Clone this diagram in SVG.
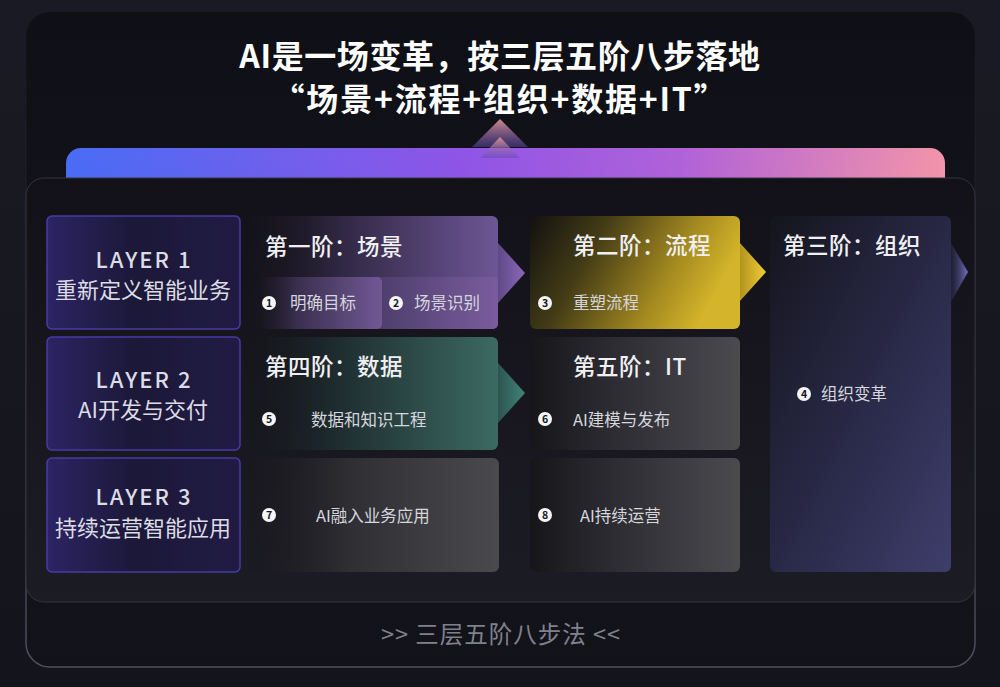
<svg xmlns="http://www.w3.org/2000/svg" width="1000" height="687" viewBox="0 0 1000 687">
<defs>
<style>
text{font-family:"Noto Sans CJK SC","Noto Sans",sans-serif}
.title{font-size:32px;font-weight:700;fill:#ffffff;text-anchor:middle;letter-spacing:0.6px}
.title2{letter-spacing:1.8px}
.lay{font-size:22px;font-weight:500;fill:#dcdce4;text-anchor:middle;letter-spacing:2px}
.laysub{font-size:22px;fill:#dcdce4;text-anchor:middle}
.stage{font-size:22.5px;font-weight:500;fill:#f0f0f4;letter-spacing:0.5px}
.step{font-size:16.5px;fill:#d6d6de}
.num{font-size:10.5px;font-weight:700;fill:#15151c;text-anchor:middle}
.nc{fill:#f6f6f8}
.layerbox{fill:url(#gLayer);stroke:#4a3aa6;stroke-width:1.5}
</style>
<linearGradient id="gBg" x1="0" y1="0" x2="0" y2="1">
<stop offset="0" stop-color="#1a1a24"/><stop offset="1" stop-color="#14141c"/>
</linearGradient>
<linearGradient id="gOuter" x1="0" y1="0" x2="0" y2="1">
<stop offset="0" stop-color="#0f0f16"/><stop offset="0.5" stop-color="#14141c"/><stop offset="1" stop-color="#121219"/>
</linearGradient>
<linearGradient id="gOuterStroke" x1="0" y1="0" x2="0" y2="1">
<stop offset="0" stop-color="#3c3c4c" stop-opacity="0"/><stop offset="0.4" stop-color="#3c3c4c" stop-opacity="0.3"/><stop offset="1" stop-color="#50505e"/>
</linearGradient>
<linearGradient id="gBar" x1="0" y1="0" x2="1" y2="0">
<stop offset="0" stop-color="#4a6cf4"/><stop offset="0.45" stop-color="#8f55e6"/><stop offset="0.7" stop-color="#b062d8"/><stop offset="1" stop-color="#f294aa"/>
</linearGradient>
<linearGradient id="gInner" x1="0" y1="0" x2="0" y2="1">
<stop offset="0" stop-color="#131118"/><stop offset="1" stop-color="#1c1c24"/>
</linearGradient>
<linearGradient id="gLayer" x1="0" y1="0" x2="1" y2="0">
<stop offset="0" stop-color="#2c2464"/><stop offset="0.45" stop-color="#1c1838"/><stop offset="1" stop-color="#211b44"/>
</linearGradient>
<linearGradient id="gPurple" x1="0" y1="0" x2="1" y2="0">
<stop offset="0" stop-color="#16141c" stop-opacity="0.2"/><stop offset="0.35" stop-color="#2e2640"/><stop offset="1" stop-color="#6e5696"/>
</linearGradient>
<linearGradient id="gSub1" x1="0" y1="0" x2="1" y2="0">
<stop offset="0" stop-color="#201c2c" stop-opacity="0.3"/><stop offset="0.3" stop-color="#3a3050"/><stop offset="1" stop-color="#725894"/>
</linearGradient>
<linearGradient id="gSub2" x1="0" y1="0" x2="1" y2="0">
<stop offset="0" stop-color="#4a3c68"/><stop offset="1" stop-color="#7a5c9e"/>
</linearGradient>
<linearGradient id="gYellow" x1="0" y1="0" x2="1" y2="0.3">
<stop offset="0" stop-color="#121110"/><stop offset="0.35" stop-color="#443c16"/><stop offset="0.75" stop-color="#a48a20"/><stop offset="1" stop-color="#d4b42a"/>
</linearGradient>
<linearGradient id="gTeal" x1="0" y1="0" x2="1" y2="0">
<stop offset="0" stop-color="#14161a" stop-opacity="0.3"/><stop offset="0.35" stop-color="#1e2c2e"/><stop offset="1" stop-color="#3c6a62"/>
</linearGradient>
<linearGradient id="gGray" x1="0" y1="0" x2="1" y2="0">
<stop offset="0" stop-color="#16161a"/><stop offset="0.4" stop-color="#2c2c32"/><stop offset="1" stop-color="#4a4a4f"/>
</linearGradient>
<linearGradient id="gGray7" x1="0" y1="0" x2="1" y2="0">
<stop offset="0" stop-color="#16161a" stop-opacity="0.3"/><stop offset="0.4" stop-color="#2e2e33"/><stop offset="1" stop-color="#4a4a4e"/>
</linearGradient>
<linearGradient id="gNavy" x1="0" y1="0" x2="1" y2="1">
<stop offset="0" stop-color="#15151d"/><stop offset="0.5" stop-color="#282846"/><stop offset="1" stop-color="#3e3e6c"/>
</linearGradient>
<linearGradient id="aPurple" x1="0" y1="0" x2="1" y2="0">
<stop offset="0" stop-color="#5e4a86"/><stop offset="1" stop-color="#8a68bc"/>
</linearGradient>
<linearGradient id="aYellow" x1="0" y1="0" x2="1" y2="0">
<stop offset="0" stop-color="#b09420"/><stop offset="1" stop-color="#f2cc34"/>
</linearGradient>
<linearGradient id="aTeal" x1="0" y1="0" x2="1" y2="0">
<stop offset="0" stop-color="#2c5450"/><stop offset="1" stop-color="#42847a"/>
</linearGradient>
<linearGradient id="aNavy" x1="0" y1="0" x2="1" y2="0">
<stop offset="0" stop-color="#3a3a6a" stop-opacity="0.3"/><stop offset="1" stop-color="#7270c0"/>
</linearGradient>
<linearGradient id="gChev" x1="0" y1="0" x2="0" y2="1">
<stop offset="0" stop-color="#f0a2a0"/><stop offset="1" stop-color="#5c48b0" stop-opacity="0.6"/>
</linearGradient>
<filter id="blur" x="-20%" y="-50%" width="140%" height="200%"><feGaussianBlur stdDeviation="8"/></filter>
</defs>

<rect x="0" y="0" width="1000" height="687" fill="url(#gBg)"/>
<rect x="26" y="12" width="949" height="655" rx="24" fill="url(#gOuter)" stroke="url(#gOuterStroke)" stroke-width="1.5"/>

<g id="title">
<text class="title" x="500" y="68">AI是一场变革，按三层五阶八步落地</text>
<text class="title title2" x="500" y="111">“场景+流程+组织+数据+IT”</text>
</g>

<g id="bar">
<rect x="66" y="148" width="879" height="50" rx="15" fill="url(#gBar)"/>
<rect x="80" y="170" width="851" height="22" fill="url(#gBar)" opacity="0.6" filter="url(#blur)"/>
</g>

<g id="panel">
<rect x="26" y="178" width="949" height="424" rx="18" fill="url(#gInner)" stroke="#34343e" stroke-width="1"/>
</g>

<g id="layer1">
<rect class="layerbox" x="47" y="216" width="193" height="113" rx="5"/>
<text class="lay" x="144" y="268">LAYER 1</text>
<text class="laysub" x="143" y="298">重新定义智能业务</text>
</g>
<g id="layer2">
<rect class="layerbox" x="47" y="337" width="193" height="113" rx="5"/>
<text class="lay" x="144" y="388">LAYER 2</text>
<text class="laysub" x="143" y="418">AI开发与交付</text>
</g>
<g id="layer3">
<rect class="layerbox" x="47" y="458" width="193" height="114" rx="5"/>
<text class="lay" x="144" y="505">LAYER 3</text>
<text class="laysub" x="143" y="536">持续运营智能应用</text>
</g>

<g id="connectors">
<polygon points="498,243 525,273 498,303" fill="url(#aPurple)"/>
<polygon points="740,243 766,272 740,301" fill="url(#aYellow)"/>
<polygon points="498,363 525,393 498,423" fill="url(#aTeal)"/>
<polygon points="951,243 968,272 951,302" fill="url(#aNavy)"/>
<polygon points="500,119 528,147 472,147" fill="url(#gChev)" opacity="0.85"/>
<polygon points="500,137 520,158 480,158" fill="url(#gChev)" opacity="0.8"/>
</g>

<g id="stage1">
<rect x="248" y="216" width="250" height="113" rx="6" fill="url(#gPurple)"/>
<text class="stage" x="265" y="255">第一阶：场景</text>
</g>
<g id="step2">
<rect x="370" y="277" width="128" height="52" rx="5" fill="url(#gSub2)"/>
<circle class="nc" cx="396" cy="303" r="7"/>
<text class="num" x="396" y="307">2</text>
<text class="step" x="414" y="309">场景识别</text>
</g>
<g id="step1">
<rect x="262" y="277" width="120" height="52" rx="5" fill="url(#gSub1)"/>
<circle class="nc" cx="269" cy="303" r="7"/>
<text class="num" x="269" y="307">1</text>
<text class="step" x="290" y="309">明确目标</text>
</g>

<g id="stage2">
<rect x="530" y="216" width="210" height="113" rx="6" fill="url(#gYellow)"/>
<text class="stage" x="573" y="254">第二阶：流程</text>
<circle class="nc" cx="545" cy="303" r="7"/>
<text class="num" x="545" y="307">3</text>
<text class="step" x="573" y="309">重塑流程</text>
</g>

<g id="stage3">
<rect x="770" y="216" width="181" height="356" rx="6" fill="url(#gNavy)"/>
<text class="stage" x="783" y="254">第三阶：组织</text>
<circle class="nc" cx="804" cy="394" r="7"/>
<text class="num" x="804" y="398">4</text>
<text class="step" x="821" y="400">组织变革</text>
</g>

<g id="stage4">
<rect x="248" y="337" width="250" height="113" rx="6" fill="url(#gTeal)"/>
<text class="stage" x="265" y="375">第四阶：数据</text>
<circle class="nc" cx="269" cy="419" r="7"/>
<text class="num" x="269" y="423">5</text>
<text class="step" x="311" y="426">数据和知识工程</text>
</g>

<g id="stage5">
<rect x="530" y="337" width="210" height="113" rx="6" fill="url(#gGray)"/>
<text class="stage" x="573" y="375">第五阶：IT</text>
<circle class="nc" cx="545" cy="419" r="7"/>
<text class="num" x="545" y="423">6</text>
<text class="step" x="573" y="426">AI建模与发布</text>
</g>

<g id="step7">
<rect x="248" y="458" width="251" height="114" rx="6" fill="url(#gGray7)"/>
<circle class="nc" cx="269" cy="515" r="7"/>
<text class="num" x="269" y="519">7</text>
<text class="step" x="316" y="522">AI融入业务应用</text>
</g>

<g id="step8">
<rect x="530" y="458" width="210" height="114" rx="6" fill="url(#gGray)"/>
<circle class="nc" cx="545" cy="515" r="7"/>
<text class="num" x="545" y="519">8</text>
<text class="step" x="580" y="522">AI持续运营</text>
</g>

<g id="footer">
<text x="501" y="643" font-size="23.5" fill="#80808e" text-anchor="middle" letter-spacing="1">&gt;&gt; 三层五阶八步法 &lt;&lt;</text>
</g>
</svg>
